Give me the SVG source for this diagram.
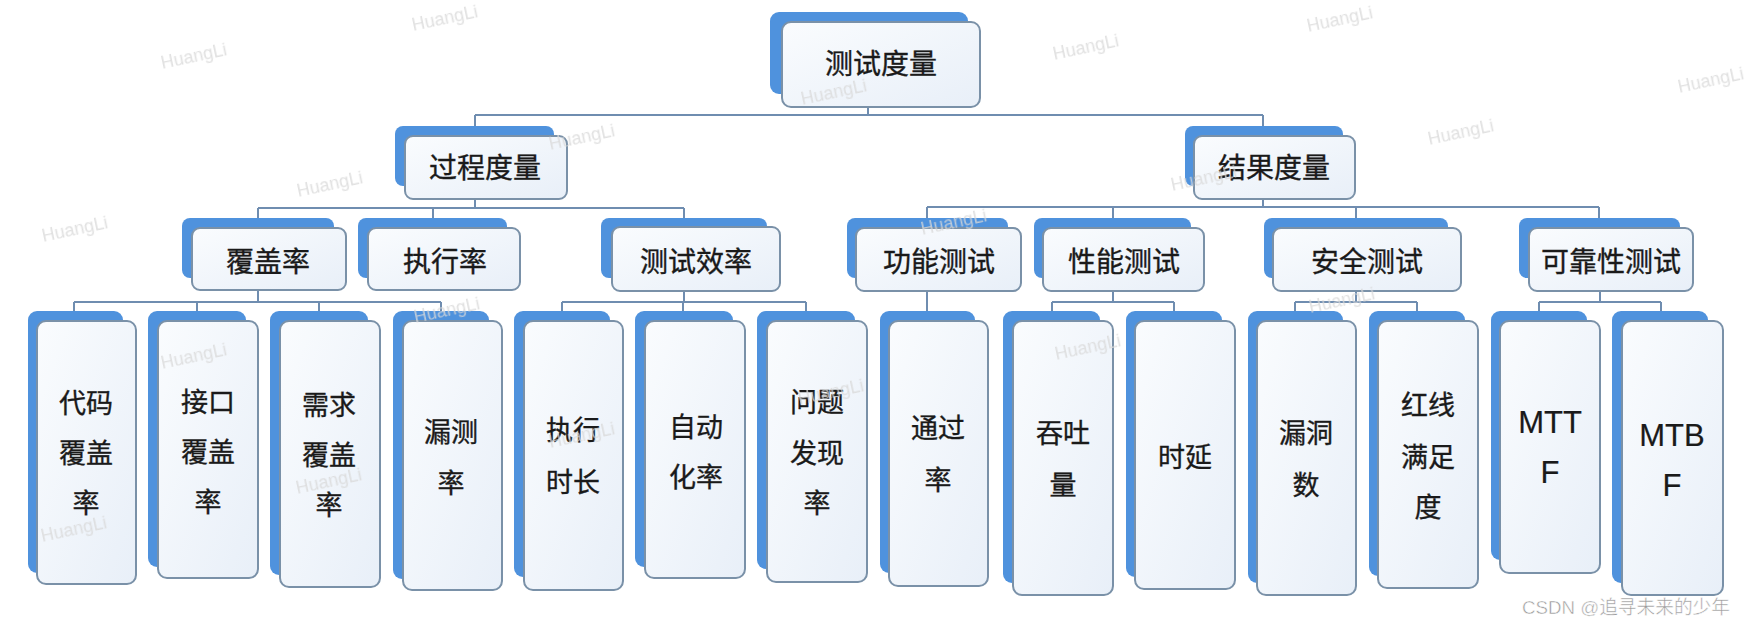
<svg xmlns="http://www.w3.org/2000/svg" width="1748" height="626" viewBox="0 0 1748 626">
<defs>
<linearGradient id="g" x1="0" y1="0" x2="1" y2="1">
<stop offset="0" stop-color="#fafcfe"/>
<stop offset="1" stop-color="#e8eff8"/>
</linearGradient>
<style>
.bk{fill:#4f92dd}
.fr{fill:url(#g);stroke:#7a91a8;stroke-width:2}
.t{font-family:"Noto Sans CJK SC","Noto Sans",sans-serif;font-size:28px;fill:#1a1a1a;stroke:#1a1a1a;stroke-width:0.35;text-anchor:middle}
.lf{font-size:27px}
.lt{font-family:"Liberation Sans",Arial,sans-serif;font-size:31px;stroke-width:0.2}
.ln{stroke:#6f8db0;stroke-width:2;fill:none}
.wm{font-family:"Liberation Sans",Arial,sans-serif;font-size:18px;fill:#d9d9d9;text-anchor:middle}
.cs{font-family:"Liberation Sans","Noto Sans CJK SC",sans-serif;font-size:19px;fill:#9a9a9a;stroke:#ffffff;stroke-width:0.5}
</style>
</defs>
<rect width="1748" height="626" fill="#ffffff"/>

<g id="connectors">
<path class="ln" d="M868 107V115M475 115H1263M475 115V126M1263 115V126"/>
<path class="ln" d="M475 199V208M258 208H684M258 208V218M433 208V218M684 208V218"/>
<path class="ln" d="M1263 199V207M927 207H1599M927 207V218M1113 207V218M1356 207V218M1599 207V218"/>
<path class="ln" d="M258 290V302M74 302H441M74 302V311M197 302V311M319 302V311M441 302V311"/>
<path class="ln" d="M684 291V302M562 302H806M562 302V311M683 302V311M806 302V311"/>
<path class="ln" d="M927 291V311"/>
<path class="ln" d="M1113 291V302M1052 302H1174M1052 302V311M1174 302V311"/>
<path class="ln" d="M1356 291V302M1295 302H1417M1295 302V311M1417 302V311"/>
<path class="ln" d="M1600 291V302M1539 302H1661M1539 302V311M1661 302V311"/>
</g>

<g id="n-root"><rect class="bk" x="770" y="12" width="198" height="82" rx="9"/><rect class="fr" x="782" y="22" width="198" height="85" rx="9"/><text class="t" x="881" y="74">测试度量</text></g>
<g id="n-process"><rect class="bk" x="395" y="126" width="159" height="60" rx="8"/><rect class="fr" x="405" y="136" width="162" height="63" rx="8"/><text class="t" x="485" y="178">过程度量</text></g>
<g id="n-result"><rect class="bk" x="1185" y="126" width="158" height="60" rx="8"/><rect class="fr" x="1194" y="136" width="161" height="63" rx="8"/><text class="t" x="1274" y="178">结果度量</text></g>

<g id="n-coverage"><rect class="bk" x="182" y="218" width="152" height="60" rx="8"/><rect class="fr" x="192" y="228" width="154" height="62" rx="8"/><text class="t" x="268" y="272">覆盖率</text></g>
<g id="n-exec"><rect class="bk" x="358" y="218" width="149" height="60" rx="8"/><rect class="fr" x="368" y="228" width="152" height="62" rx="8"/><text class="t" x="445" y="272">执行率</text></g>
<g id="n-efficiency"><rect class="bk" x="601" y="218" width="166" height="60" rx="8"/><rect class="fr" x="612" y="227" width="168" height="64" rx="8"/><text class="t" x="696" y="272">测试效率</text></g>
<g id="n-func"><rect class="bk" x="847" y="218" width="161" height="60" rx="8"/><rect class="fr" x="856" y="228" width="165" height="63" rx="8"/><text class="t" x="939" y="272">功能测试</text></g>
<g id="n-perf"><rect class="bk" x="1034" y="218" width="157" height="60" rx="8"/><rect class="fr" x="1043" y="228" width="161" height="63" rx="8"/><text class="t" x="1124" y="272">性能测试</text></g>
<g id="n-sec"><rect class="bk" x="1264" y="218" width="184" height="60" rx="8"/><rect class="fr" x="1273" y="228" width="188" height="63" rx="8"/><text class="t" x="1367" y="272">安全测试</text></g>
<g id="n-rel"><rect class="bk" x="1519" y="218" width="161" height="60" rx="8"/><rect class="fr" x="1529" y="228" width="164" height="63" rx="8"/><text class="t" x="1611" y="272">可靠性测试</text></g>

<g id="l-code"><rect class="bk" x="28" y="311" width="95" height="262" rx="9"/><rect class="fr" x="37" y="321" width="99" height="263" rx="9"/><text class="t lf" x="86" y="413">代码</text><text class="t lf" x="86" y="463">覆盖</text><text class="t lf" x="86" y="513">率</text></g>
<g id="l-api"><rect class="bk" x="148" y="311" width="98" height="256" rx="9"/><rect class="fr" x="158" y="321" width="100" height="257" rx="9"/><text class="t lf" x="208" y="412">接口</text><text class="t lf" x="208" y="462">覆盖</text><text class="t lf" x="208" y="512">率</text></g>
<g id="l-req"><rect class="bk" x="270" y="311" width="98" height="264" rx="9"/><rect class="fr" x="280" y="321" width="100" height="266" rx="9"/><text class="t lf" x="329" y="415">需求</text><text class="t lf" x="329" y="465">覆盖</text><text class="t lf" x="329" y="515">率</text></g>
<g id="l-miss"><rect class="bk" x="393" y="311" width="96" height="268" rx="9"/><rect class="fr" x="403" y="321" width="99" height="269" rx="9"/><text class="t lf" x="451" y="442">漏测</text><text class="t lf" x="451" y="493">率</text></g>
<g id="l-dur"><rect class="bk" x="514" y="311" width="96" height="266" rx="9"/><rect class="fr" x="524" y="321" width="99" height="269" rx="9"/><text class="t lf" x="573" y="440">执行</text><text class="t lf" x="573" y="492">时长</text></g>
<g id="l-auto"><rect class="bk" x="635" y="311" width="98" height="256" rx="9"/><rect class="fr" x="645" y="321" width="100" height="257" rx="9"/><text class="t lf" x="696" y="437">自动</text><text class="t lf" x="696" y="487">化率</text></g>
<g id="l-bug"><rect class="bk" x="757" y="311" width="98" height="258" rx="9"/><rect class="fr" x="767" y="321" width="100" height="261" rx="9"/><text class="t lf" x="817" y="412">问题</text><text class="t lf" x="817" y="463">发现</text><text class="t lf" x="817" y="513">率</text></g>
<g id="l-pass"><rect class="bk" x="880" y="311" width="95" height="262" rx="9"/><rect class="fr" x="889" y="321" width="99" height="265" rx="9"/><text class="t lf" x="938" y="438">通过</text><text class="t lf" x="938" y="490">率</text></g>
<g id="l-tput"><rect class="bk" x="1003" y="311" width="97" height="272" rx="9"/><rect class="fr" x="1013" y="321" width="100" height="274" rx="9"/><text class="t lf" x="1063" y="443">吞吐</text><text class="t lf" x="1063" y="495">量</text></g>
<g id="l-lat"><rect class="bk" x="1126" y="311" width="96" height="266" rx="9"/><rect class="fr" x="1135" y="321" width="100" height="268" rx="9"/><text class="t lf" x="1185" y="467">时延</text></g>
<g id="l-vuln"><rect class="bk" x="1248" y="311" width="95" height="272" rx="9"/><rect class="fr" x="1257" y="321" width="99" height="274" rx="9"/><text class="t lf" x="1306" y="443">漏洞</text><text class="t lf" x="1306" y="495">数</text></g>
<g id="l-red"><rect class="bk" x="1369" y="311" width="96" height="265" rx="9"/><rect class="fr" x="1378" y="321" width="100" height="267" rx="9"/><text class="t lf" x="1428" y="415">红线</text><text class="t lf" x="1428" y="467">满足</text><text class="t lf" x="1428" y="517">度</text></g>
<g id="l-mttf"><rect class="bk" x="1491" y="311" width="96" height="249" rx="9"/><rect class="fr" x="1500" y="321" width="100" height="252" rx="9"/><text class="t lt" x="1550" y="433">MTT</text><text class="t lt" x="1550" y="483">F</text></g>
<g id="l-mtbf"><rect class="bk" x="1612" y="311" width="96" height="272" rx="9"/><rect class="fr" x="1622" y="321" width="101" height="274" rx="9"/><text class="t lt" x="1672" y="446">MTB</text><text class="t lt" x="1672" y="496">F</text></g>

<g id="watermarks" opacity="0.8">
<text class="wm" transform="translate(446,24) rotate(-12)">HuangLi</text>
<text class="wm" transform="translate(195,62) rotate(-12)">HuangLi</text>
<text class="wm" transform="translate(583,143) rotate(-12)">HuangLi</text>
<text class="wm" transform="translate(331,190) rotate(-12)">HuangLi</text>
<text class="wm" transform="translate(76,235) rotate(-12)">HuangLi</text>
<text class="wm" transform="translate(1341,25) rotate(-12)">HuangLi</text>
<text class="wm" transform="translate(1087,53) rotate(-12)">HuangLi</text>
<text class="wm" transform="translate(1712,86) rotate(-12)">HuangLi</text>
<text class="wm" transform="translate(835,98) rotate(-12)">HuangLi</text>
<text class="wm" transform="translate(1462,138) rotate(-12)">HuangLi</text>
<text class="wm" transform="translate(1205,184) rotate(-12)">HuangLi</text>
<text class="wm" transform="translate(955,228) rotate(-12)">HuangLi</text>
<text class="wm" transform="translate(1343,306) rotate(-12)">HuangLi</text>
<text class="wm" transform="translate(448,316) rotate(-12)">HuangLi</text>
<text class="wm" transform="translate(195,362) rotate(-12)">HuangLi</text>
<text class="wm" transform="translate(1089,353) rotate(-12)">HuangLi</text>
<text class="wm" transform="translate(832,398) rotate(-12)">HuangLi</text>
<text class="wm" transform="translate(583,441) rotate(-12)">HuangLi</text>
<text class="wm" transform="translate(330,487) rotate(-12)">HuangLi</text>
<text class="wm" transform="translate(75,535) rotate(-12)">HuangLi</text>
</g>
<text class="cs" x="1522" y="614" textLength="208" lengthAdjust="spacingAndGlyphs">CSDN @追寻未来的少年</text>
</svg>
